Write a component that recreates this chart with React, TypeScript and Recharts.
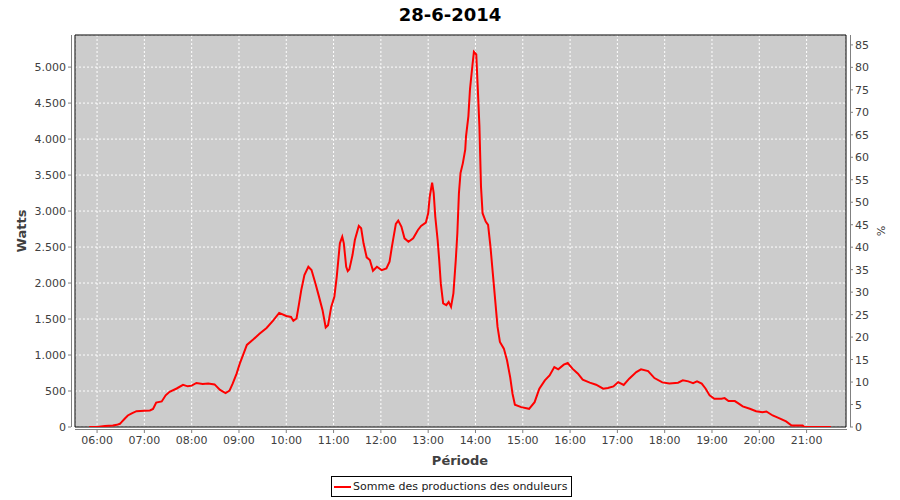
import { LineChart, Line, XAxis, YAxis, CartesianGrid, Legend, ReferenceArea } from 'recharts';

// relevés du 28-6-2014 (heure, watts)
const times = [
  '05:50', '06:00', '06:10', '06:20', '06:25', '06:29', '06:31', '06:35', '06:39', '06:44',
  '06:50', '07:00', '07:07', '07:11', '07:15', '07:22', '07:27', '07:32', '07:41', '07:49',
  '07:55', '08:00', '08:06', '08:14', '08:21', '08:29', '08:36', '08:43', '08:48', '08:52',
  '08:57', '09:01', '09:05', '09:10', '09:18', '09:26', '09:35', '09:43', '09:51', '10:00',
  '10:06', '10:09', '10:13', '10:16', '10:19', '10:23', '10:28', '10:32', '10:37', '10:41',
  '10:46', '10:50', '10:53', '10:57', '11:01', '11:04', '11:08', '11:11', '11:13', '11:16',
  '11:18', '11:20', '11:24', '11:27', '11:32', '11:35', '11:38', '11:42', '11:46', '11:50',
  '11:55', '12:01', '12:07', '12:11', '12:14', '12:19', '12:22', '12:26', '12:30', '12:35',
  '12:41', '12:47', '12:51', '12:57', '13:00', '13:02', '13:05', '13:07', '13:09', '13:12',
  '13:14', '13:16', '13:19', '13:23', '13:26', '13:29', '13:32', '13:35', '13:37', '13:39',
  '13:41', '13:44', '13:47', '13:48', '13:51', '13:53', '13:56', '13:58', '14:01', '14:03',
  '14:05', '14:07', '14:09', '14:13', '14:16', '14:19', '14:22', '14:25', '14:28', '14:31',
  '14:36', '14:40', '14:44', '14:47', '14:50', '14:58', '15:08', '15:15', '15:21', '15:28',
  '15:34', '15:40', '15:45', '15:52', '15:57', '16:03', '16:10', '16:16', '16:25', '16:33',
  '16:42', '16:48', '16:55', '17:01', '17:08', '17:15', '17:24', '17:30', '17:39', '17:47',
  '17:57', '18:06', '18:17', '18:23', '18:30', '18:36', '18:41', '18:47', '18:52', '18:57',
  '19:03', '19:12', '19:16', '19:21', '19:29', '19:33', '19:39', '19:48', '19:56', '20:04',
  '20:09', '20:17', '20:25', '20:34', '20:41', '20:55', '20:57', '21:31',
];

const watts = [
  0, 0, 15, 20, 30, 45, 67, 114, 160, 190,
  220, 225, 230, 250, 340, 355, 440, 490, 535, 585,
  565, 575, 612, 598, 605, 592, 515, 471, 505, 602,
  741, 880, 996, 1140, 1215, 1295, 1376, 1474, 1585, 1543,
  1529, 1474, 1507, 1700, 1901, 2110, 2226, 2180, 1995, 1832,
  1623, 1382, 1414, 1669, 1808, 2087, 2552, 2644, 2552, 2226,
  2166, 2190, 2389, 2598, 2793, 2761, 2552, 2357, 2319, 2170,
  2226, 2180, 2203, 2296, 2505, 2821, 2867, 2784, 2621, 2574,
  2621, 2737, 2793, 2839, 2970, 3201, 3396, 3248, 2923, 2598,
  2319, 1995, 1716, 1693, 1738, 1669, 1855, 2319, 2691, 3248,
  3527, 3666, 3852, 4037, 4316, 4687, 5012, 5212, 5175, 4687,
  4176, 3340, 2970, 2853, 2807, 2505, 2134, 1762, 1390, 1181,
  1089, 926, 694, 462, 310, 276, 253, 345, 532, 648,
  717, 833, 801, 866, 889, 811, 741, 657, 616, 588,
  532, 541, 564, 624, 585, 671, 763, 801, 777, 680,
  620, 605, 616, 648, 634, 610, 634, 602, 532, 439,
  393, 393, 401, 360, 360, 332, 286, 253, 220, 206,
  216, 160, 123, 77, 21, 21, 0, 0,
];

const hourTicks = [360, 420, 480, 540, 600, 660, 720, 780, 840, 900, 960, 1020, 1080, 1140, 1200, 1260];
const wattTicks = [0, 500, 1000, 1500, 2000, 2500, 3000, 3500, 4000, 4500, 5000];
const pctTicks = [0, 5, 10, 15, 20, 25, 30, 35, 40, 45, 50, 55, 60, 65, 70, 75, 80, 85];

const seriesName = 'Somme des productions des onduleurs';

const toMinutes = (s: string) => {
  const [h, m] = s.split(':').map(Number);
  return h * 60 + m;
};

const data = times.map((t, i) => ({ t: toMinutes(t), watts: watts[i] }));

const X_DOMAIN: [number, number] = [332, 1310];
const W_DOMAIN: [number, number] = [0, 5446];

// zone de tracé
const W = 900;
const H = 500;
const LEFT = 75;
const RIGHT = 846;
const TOP = 35;
const BOTTOM = 427;
const GAP = 4;

const FONT = '"DejaVu Sans", sans-serif';
const TICK_COLOR = '#404040';
const AXIS_COLOR = '#808080';

const fmtHour = (v: number) =>
  `${String(Math.floor(v / 60)).padStart(2, '0')}:${String(v % 60).padStart(2, '0')}`;

const fmtWatts = (v: number) => String(v).replace(/\B(?=(\d{3})+(?!\d))/g, '.');

const LeftTick = ({ y, payload }: any) => (
  <g>
    <line x1={LEFT - GAP - 3} x2={LEFT - GAP} y1={y} y2={y} stroke={AXIS_COLOR} />
    <text x={LEFT - GAP - 5} y={y + 4} textAnchor="end" fontSize={11} fontFamily={FONT} fill={TICK_COLOR}>
      {fmtWatts(payload.value)}
    </text>
  </g>
);

const RightTick = ({ y, payload }: any) => (
  <g>
    <line x1={RIGHT + GAP} x2={RIGHT + GAP + 3} y1={y} y2={y} stroke={AXIS_COLOR} />
    <text x={RIGHT + GAP + 5} y={y + 4} textAnchor="start" fontSize={11} fontFamily={FONT} fill={TICK_COLOR}>
      {payload.value}
    </text>
  </g>
);

const BottomTick = ({ x, payload }: any) => (
  <g>
    <line x1={x} x2={x} y1={BOTTOM + GAP - 1} y2={BOTTOM + GAP + 2} stroke={AXIS_COLOR} />
    <text x={x} y={BOTTOM + 17} textAnchor="middle" fontSize={11} fontFamily={FONT} fill={TICK_COLOR}>
      {fmtHour(payload.value)}
    </text>
  </g>
);

const LegendBox = () => (
  <div
    style={{
      display: 'flex',
      alignItems: 'center',
      border: '1px solid #000',
      padding: '3px 4px 3px 2px',
      fontFamily: FONT,
      fontSize: 11,
      color: '#202020',
      background: '#fff',
      whiteSpace: 'nowrap',
    }}
  >
    <span style={{ display: 'inline-block', width: 17, height: 2, background: '#ff0000', marginRight: 2 }} />
    {seriesName}
  </div>
);

export default function App() {
  return (
    <div style={{ position: 'absolute', left: 0, top: 0, width: W, height: H, background: '#fff' }}>
      <LineChart width={W} height={H} data={data} margin={{ top: TOP, right: 0, bottom: 0, left: 0 }}>
        <CartesianGrid yAxisId="w" fill="#cccccc" stroke="#ffffff" strokeDasharray="2 2" />
        <XAxis
          dataKey="t"
          type="number"
          domain={X_DOMAIN}
          ticks={hourTicks}
          height={H - BOTTOM}
          axisLine={false}
          tickLine={false}
          tick={<BottomTick />}
          interval={0}
          allowDataOverflow
        />
        <YAxis
          yAxisId="w"
          orientation="left"
          type="number"
          domain={W_DOMAIN}
          ticks={wattTicks}
          width={LEFT}
          axisLine={false}
          tickLine={false}
          tick={<LeftTick />}
          interval={0}
          allowDataOverflow
        />
        <YAxis
          yAxisId="pct"
          orientation="right"
          type="number"
          domain={[0, 87.2]}
          ticks={pctTicks}
          width={W - RIGHT}
          axisLine={false}
          tickLine={false}
          tick={<RightTick />}
          interval={0}
          allowDataOverflow
        />
        <ReferenceArea
          yAxisId="w"
          x1={X_DOMAIN[0]}
          x2={X_DOMAIN[1]}
          y1={W_DOMAIN[0]}
          y2={W_DOMAIN[1]}
          fill="none"
          stroke="#000"
          strokeWidth={1}
        />
        <Legend
          layout="horizontal"
          verticalAlign="middle"
          align="center"
          content={<LegendBox />}
          wrapperStyle={{ top: 476, left: 331, width: 'auto', height: 'auto' }}
        />
        <Line
          yAxisId="w"
          type="linear"
          dataKey="watts"
          name={seriesName}
          stroke="#ff0000"
          strokeWidth={2}
          dot={false}
          isAnimationActive={false}
        />
      </LineChart>
      <svg
        width={W}
        height={H}
        style={{ position: 'absolute', left: 0, top: 0, pointerEvents: 'none' }}
      >
        <line x1={LEFT - GAP + 0.5} x2={LEFT - GAP + 0.5} y1={TOP} y2={BOTTOM} stroke={AXIS_COLOR} />
        <line x1={RIGHT + GAP + 0.5} x2={RIGHT + GAP + 0.5} y1={TOP} y2={BOTTOM} stroke={AXIS_COLOR} />
        <line x1={LEFT} x2={RIGHT + 1} y1={BOTTOM + GAP - 1.5} y2={BOTTOM + GAP - 1.5} stroke={AXIS_COLOR} />
        <text x={450} y={21} textAnchor="middle" fontSize={18} fontWeight="bold" fontFamily={FONT} fill="#000">
          28-6-2014
        </text>
        <text x={460} y={465} textAnchor="middle" fontSize={13} fontWeight="bold" fontFamily={FONT} fill={TICK_COLOR}>
          Période
        </text>
        <text
          transform={`translate(26, ${(TOP + BOTTOM) / 2}) rotate(-90)`}
          textAnchor="middle"
          fontSize={13}
          fontWeight="bold"
          fontFamily={FONT}
          fill={TICK_COLOR}
        >
          Watts
        </text>
        <text
          transform={`translate(877, ${(TOP + BOTTOM) / 2}) rotate(90)`}
          textAnchor="middle"
          fontSize={11}
          fontFamily={FONT}
          fill={TICK_COLOR}
        >
          %
        </text>
      </svg>
    </div>
  );
}
